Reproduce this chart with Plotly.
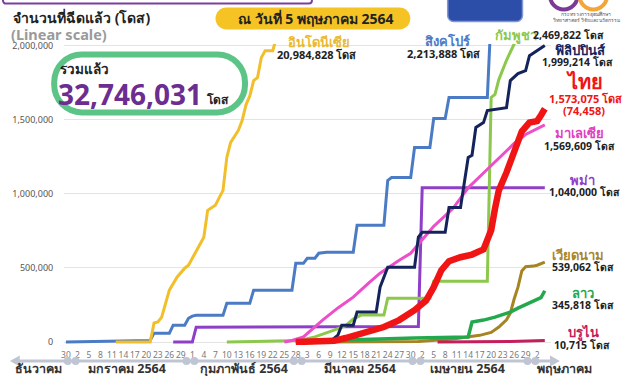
import plotly.graph_objects as go
from datetime import datetime, timedelta

# ---------------- data ----------------
singapore_dates = ["2020-12-30", "2021-01-12", "2021-01-21", "2021-01-22", "2021-01-26", "2021-01-27",
                   "2021-01-30", "2021-01-31", "2021-02-01", "2021-02-02", "2021-02-09", "2021-02-10",
                   "2021-02-16", "2021-02-17", "2021-02-27", "2021-02-28", "2021-03-02", "2021-03-03",
                   "2021-03-05", "2021-03-06", "2021-03-08", "2021-03-15", "2021-03-16", "2021-03-23",
                   "2021-03-24", "2021-03-25", "2021-03-30", "2021-03-31", "2021-04-04", "2021-04-05",
                   "2021-04-08", "2021-04-09", "2021-04-19", "2021-04-20", "2021-05-04"]
singapore_vals = [0, 5000, 10000, 60000, 60000, 114000,
                  114000, 160000, 175000, 180000, 180000, 262000,
                  262000, 350000, 350000, 531000, 531000, 565000,
                  565000, 599000, 606000, 606000, 787000, 787000,
                  1090000, 1110000, 1110000, 1312000, 1312000, 1507000,
                  1507000, 1649000, 1649000, 2213888, 2213888]

indonesia_dates = ["2021-01-12", "2021-01-21", "2021-01-22", "2021-01-23", "2021-01-24", "2021-01-26",
                   "2021-01-28", "2021-01-30", "2021-01-31", "2021-02-04", "2021-02-05", "2021-02-07",
                   "2021-02-09", "2021-02-10", "2021-02-11", "2021-02-13", "2021-02-14", "2021-02-15",
                   "2021-02-16", "2021-02-17", "2021-02-18", "2021-02-19", "2021-02-20", "2021-02-22",
                   "2021-02-23"]
indonesia_vals = [0, 0, 128000, 135000, 168000, 350000,
                  437000, 498000, 518000, 707000, 888000, 922000,
                  1023000, 1245000, 1346000, 1427000, 1494000, 1600000,
                  1660000, 1763000, 1783000, 1918000, 1965000, 1965000,
                  2060000]

myanmar_dates = ["2021-01-27", "2021-02-01", "2021-02-02", "2021-04-01", "2021-04-02", "2021-05-04"]
myanmar_vals = [0, 0, 100000, 104000, 1040000, 1040000]

cambodia_dates = ["2021-02-10", "2021-02-20", "2021-03-01", "2021-03-05", "2021-03-08", "2021-03-10",
                  "2021-03-13", "2021-03-15", "2021-03-17", "2021-03-23", "2021-03-24", "2021-04-04",
                  "2021-04-05", "2021-04-19", "2021-04-20", "2021-04-21", "2021-04-22", "2021-04-24",
                  "2021-04-26", "2021-05-04"]
cambodia_vals = [0, 3000, 10000, 35000, 60000, 80000,
                 110000, 155000, 182000, 182000, 296000, 296000,
                 410000, 410000, 1650000, 1670000, 1770000, 1900000,
                 2010000, 2469822]

philippines_dates = ["2021-02-28", "2021-03-09", "2021-03-11", "2021-03-12", "2021-03-15", "2021-03-16",
                     "2021-03-21", "2021-03-22", "2021-03-24", "2021-03-31", "2021-04-01", "2021-04-02",
                     "2021-04-08", "2021-04-09", "2021-04-12", "2021-04-13", "2021-04-14", "2021-04-15",
                     "2021-04-16", "2021-04-18", "2021-04-19", "2021-04-24", "2021-04-25", "2021-04-27",
                     "2021-04-29", "2021-04-30", "2021-05-02", "2021-05-04"]
philippines_vals = [0, 5000, 47000, 114000, 114000, 202000,
                    202000, 370000, 505000, 505000, 707000, 740000,
                    740000, 908000, 908000, 1070000, 1245000, 1260000,
                    1447000, 1480000, 1561000, 1581000, 1763000, 1810000,
                    1830000, 1931000, 1965000, 1999214]

malaysia_dates = ["2021-02-25", "2021-02-27", "2021-03-02", "2021-03-07", "2021-03-11", "2021-03-15",
                  "2021-03-19", "2021-03-22", "2021-03-27", "2021-03-30", "2021-04-01", "2021-04-05",
                  "2021-04-10", "2021-04-14", "2021-04-18", "2021-04-22", "2021-04-26", "2021-04-29",
                  "2021-05-02", "2021-05-04"]
malaysia_vals = [0, 10000, 34000, 148000, 230000, 303000,
                 397000, 464000, 552000, 599000, 660000, 780000,
                 900000, 1040000, 1140000, 1240000, 1339000, 1400000,
                 1440000, 1465000]

thailand_dates = ["2021-02-28", "2021-03-10", "2021-03-13", "2021-03-18", "2021-03-23", "2021-03-27",
                  "2021-03-31", "2021-04-03", "2021-04-05", "2021-04-07", "2021-04-09", "2021-04-12",
                  "2021-04-15", "2021-04-18", "2021-04-20", "2021-04-21", "2021-04-22", "2021-04-24",
                  "2021-04-26", "2021-04-28", "2021-04-30", "2021-05-02", "2021-05-03", "2021-05-04"]
thailand_vals = [0, 8000, 27000, 60000, 101000, 148000,
                 215000, 280000, 370000, 484000, 545000, 572000,
                 590000, 625000, 754000, 900000, 1023000, 1144000,
                 1292000, 1420000, 1480000, 1490000, 1530000, 1573075]

vietnam_dates = ["2021-03-08", "2021-04-01", "2021-04-10", "2021-04-17", "2021-04-20", "2021-04-22",
                 "2021-04-24", "2021-04-25", "2021-04-26", "2021-04-27", "2021-04-28", "2021-04-29",
                 "2021-05-01", "2021-05-02", "2021-05-04"]
vietnam_vals = [0, 3000, 20000, 45000, 65000, 101000,
                150000, 195000, 290000, 370000, 480000, 508000,
                512000, 518000, 539062]

laos_dates = ["2021-03-05", "2021-03-15", "2021-03-31", "2021-04-14", "2021-04-15", "2021-04-18",
              "2021-04-21", "2021-04-25", "2021-04-27", "2021-04-30", "2021-05-02", "2021-05-03",
              "2021-05-04"]
laos_vals = [0, 15000, 27000, 34000, 135000, 148000,
             168000, 202000, 229000, 262000, 283000, 300000,
             345818]

brunei_dates = ["2021-04-06", "2021-04-25", "2021-05-04"]
brunei_vals = [500, 3000, 10715]

y_tick_vals = [0, 500000, 1000000, 1500000, 2000000]
x_tick_labels = ["30", "2", "5", "8", "11", "14", "17", "20", "23", "26", "29",
                 "1", "4", "7", "10", "13", "16", "19", "22", "25", "28",
                 "3", "6", "9", "12", "15", "18", "21", "24", "27", "30",
                 "2", "5", "8", "11", "14", "17", "20", "23", "26", "29", "2"]
month_labels = ["ธันวาคม", "มกราคม 2564", "กุมภาพันธ์ 2564", "มีนาคม 2564", "เมษายน 2564", "พฤษภาคม"]

# ---------------- geometry helpers (pixel -> paper) ----------------
FW, FH = 627, 376
L, R, T, B = 56, 551, 43.5, 345
BASE = datetime(2020, 12, 30)
PX_PER_DAY = 3.894
x_range = [BASE - timedelta(days=0.5), BASE + timedelta(days=-0.5 + (R - L) / PX_PER_DAY)]
y_range = [-20000, 2010000]


def xp(X):
    return (X - L) / (R - L)


def yp(Y):
    return (B - Y) / (B - T)


def P(x, y):
    return f"{xp(x):.5f},{yp(y):.5f}"


def rrect(x0, y0, x1, y1, r):
    k = 0.5523 * r
    return (f"M {P(x0 + r, y0)} L {P(x1 - r, y0)} "
            f"C {P(x1 - r + k, y0)} {P(x1, y0 + r - k)} {P(x1, y0 + r)} "
            f"L {P(x1, y1 - r)} C {P(x1, y1 - r + k)} {P(x1 - r + k, y1)} {P(x1 - r, y1)} "
            f"L {P(x0 + r, y1)} C {P(x0 + r - k, y1)} {P(x0, y1 - r + k)} {P(x0, y1 - r)} "
            f"L {P(x0, y0 + r)} C {P(x0, y0 + r - k)} {P(x0 + r - k, y0)} {P(x0 + r, y0)} Z")


FONT = "Noto Sans, Open Sans, sans-serif"

fig = go.Figure()

series = [
    ("สิงคโปร์", singapore_dates, singapore_vals, "#4C7BC6", 3),
    ("อินโดนีเซีย", indonesia_dates, indonesia_vals, "#F2BF2B", 3),
    ("พม่า", myanmar_dates, myanmar_vals, "#8E3FC8", 3),
    ("กัมพูชา", cambodia_dates, cambodia_vals, "#8CC84B", 3),
    ("มาเลเซีย", malaysia_dates, malaysia_vals, "#EC4FC9", 3),
    ("ฟิลิปปินส์", philippines_dates, philippines_vals, "#15235C", 3),
    ("เวียดนาม", vietnam_dates, vietnam_vals, "#A58423", 3),
    ("ลาว", laos_dates, laos_vals, "#24A84E", 3.5),
    ("บรูไน", brunei_dates, brunei_vals, "#C41E5C", 3),
    ("ไทย", thailand_dates, thailand_vals, "#F01414", 6.5),
]
for name, d, v, c, w in series:
    fig.add_trace(go.Scatter(x=d, y=v, mode="lines", name=name,
                             line=dict(color=c, width=w), hoverinfo="skip"))

tick_dates = [BASE + timedelta(days=3 * i) for i in range(len(x_tick_labels))]

fig.update_xaxes(range=x_range, type="date", tickmode="array", tickvals=tick_dates,
                 ticktext=x_tick_labels, showgrid=False, zeroline=False, showline=False,
                 ticks="outside", ticklen=2, tickcolor="rgba(0,0,0,0)",
                 tickfont=dict(family=FONT, size=8.5, color="#7a7a7a"), tickangle=0)
fig.update_yaxes(range=y_range, tickmode="array", tickvals=y_tick_vals, tickformat=",d",
                 showgrid=True, gridcolor="#E4E4E4", gridwidth=1, zeroline=False, showline=False,
                 ticks="outside", ticklen=8, tickcolor="rgba(0,0,0,0)",
                 tickfont=dict(family=FONT, size=9, color="#555555"))

shapes = []
anns = []

# top decorations
shapes.append(dict(type="path", path=rrect(-6, -12, 308, 3, 3), xref="paper", yref="paper",
                   line=dict(color="#7B3FA0", width=2), fillcolor="rgba(0,0,0,0)", layer="above"))
shapes.append(dict(type="path", path=rrect(446, -10, 522, 21, 6), xref="paper", yref="paper",
                   line=dict(color="#7E98D6", width=1.5), fillcolor="#2C4EA8", layer="above"))
shapes.append(dict(type="circle", xref="paper", yref="paper", x0=xp(550), x1=xp(578),
                   y0=yp(9), y1=yp(-19), line=dict(color="#7A3A96", width=4),
                   fillcolor="rgba(0,0,0,0)"))
shapes.append(dict(type="circle", xref="paper", yref="paper", x0=xp(580), x1=xp(608),
                   y0=yp(9), y1=yp(-19), line=dict(color="#F3A53A", width=4),
                   fillcolor="rgba(0,0,0,0)"))
anns.append(dict(text="กระทรวงการอุดมศึกษา", x=xp(587), y=yp(13.5), font=dict(size=5, color="#555")))
anns.append(dict(text="วิทยาศาสตร์ วิจัยและนวัตกรรม", x=xp(587), y=yp(19), font=dict(size=5, color="#555")))

# yellow date pill
shapes.append(dict(type="path", path=rrect(210, 7, 408, 29, 11), xref="paper", yref="paper",
                   line=dict(width=0), fillcolor="#F6C324"))
anns.append(dict(text="<b>ณ วันที่ 5 พฤษภาคม 2564</b>", x=xp(312), y=yp(18),
                 font=dict(size=14, color="#222")))

# titles
anns.append(dict(text="<b>จำนวนที่ฉีดแล้ว (โดส)</b>", x=xp(2), y=yp(17), xanchor="left",
                 font=dict(size=14, color="#222")))
anns.append(dict(text="<b>(Linear scale)</b>", x=xp(0), y=yp(33), xanchor="left",
                 font=dict(size=14.5, color="#9A9A9A")))

# green total box
shapes.append(dict(type="path", path=rrect(46, 54, 240, 112, 28), xref="paper", yref="paper",
                   line=dict(color="#5CC486", width=6), fillcolor="white", layer="above"))
anns.append(dict(text="<b>รวมแล้ว</b>", x=xp(50), y=yp(69), xanchor="left",
                 font=dict(size=13.5, color="#222")))
anns.append(dict(text="<b>32,746,031</b>", x=xp(48), y=yp(94), xanchor="left",
                 font=dict(size=28, color="#6B2D90")))
anns.append(dict(text="<b>โดส</b>", x=xp(198), y=yp(99), xanchor="left",
                 font=dict(size=12, color="#222")))

# right-side labels
def label(text, X, Y, color, size, bold=True):
    anns.append(dict(text=f"<b>{text}</b>" if bold else text, x=xp(X), y=yp(Y),
                     font=dict(size=size, color=color)))

label("อินโดนีเซีย", 315, 41, "#E9B92F", 13)
label("20,984,828 โดส", 313, 54, "#222", 11)
label("สิงคโปร์", 446, 40, "#4C7BC6", 13)
label("2,213,888 โดส", 442, 53, "#222", 11)
label("กัมพูชา", 515, 34, "#8CC84B", 13)
label("2,469,822 โดส", 569, 34, "#222", 10.5)
label("ฟิลิปปินส์", 580, 50, "#15235C", 13)
label("1,999,214 โดส", 578, 62, "#222", 10.5)
label("ไทย", 585, 81, "#F01414", 20)
label("1,573,075 โดส", 586, 98.5, "#F01414", 11)
label("(74,458)", 585, 110, "#F01414", 11)
label("มาเลเซีย", 580, 133, "#E040C0", 13)
label("1,569,609 โดส", 580, 146, "#222", 10.5)
label("พม่า", 583, 180, "#8E3FC8", 13)
label("1,040,000 โดส", 585, 192, "#222", 10.5)
label("เวียดนาม", 578, 255, "#A8862A", 13)
label("539,062 โดส", 584, 267, "#222", 10.5)
label("ลาว", 584, 293, "#24A84E", 13)
label("345,818 โดส", 584, 305, "#222", 10.5)
label("บรูไน", 584, 332, "#C41E5C", 13)
label("10,715 โดส", 583, 345, "#222", 10.5)

# bottom month arrow
AC = "#BFC5D2"
shapes.append(dict(type="line", xref="paper", yref="paper", x0=xp(8), x1=xp(552),
                   y0=yp(361), y1=yp(361), line=dict(color=AC, width=3)))
shapes.append(dict(type="path", xref="paper", yref="paper",
                   path=f"M {P(1, 361)} L {P(11, 355.5)} L {P(11, 366.5)} Z",
                   fillcolor=AC, line=dict(width=0)))
shapes.append(dict(type="path", xref="paper", yref="paper",
                   path=f"M {P(560, 361)} L {P(550, 355.5)} L {P(550, 366.5)} Z",
                   fillcolor=AC, line=dict(width=0)))
for bx in [63.8, 184.5, 293.6, 414.3, 531.1]:
    for dx in (-4, 4):
        shapes.append(dict(type="circle", xref="paper", yref="paper",
                           x0=xp(bx + dx - 4), x1=xp(bx + dx + 4), y0=yp(365), y1=yp(357),
                           fillcolor=AC, line=dict(width=0)))
for txt, X in zip(month_labels, [30, 120, 239, 357, 466, 565]):
    anns.append(dict(text=f"<b>{txt}</b>", x=xp(X), y=yp(369), font=dict(size=12.5, color="#333")))

for a in anns:
    a.setdefault("xref", "paper")
    a.setdefault("yref", "paper")
    a.setdefault("showarrow", False)
    a.setdefault("xanchor", "center")
    a.setdefault("yanchor", "middle")
    a["font"].setdefault("family", FONT)

fig.update_layout(width=FW, height=FH, autosize=False, showlegend=False,
                  margin=dict(l=L, r=FW - R, t=T, b=FH - B, pad=0),
                  paper_bgcolor="white", plot_bgcolor="white",
                  shapes=shapes, annotations=anns, font=dict(family=FONT))

fig.write_html("out.html", config={"displayModeBar": False},
               post_script="document.body.style.margin='0';document.body.style.overflow='hidden';")
